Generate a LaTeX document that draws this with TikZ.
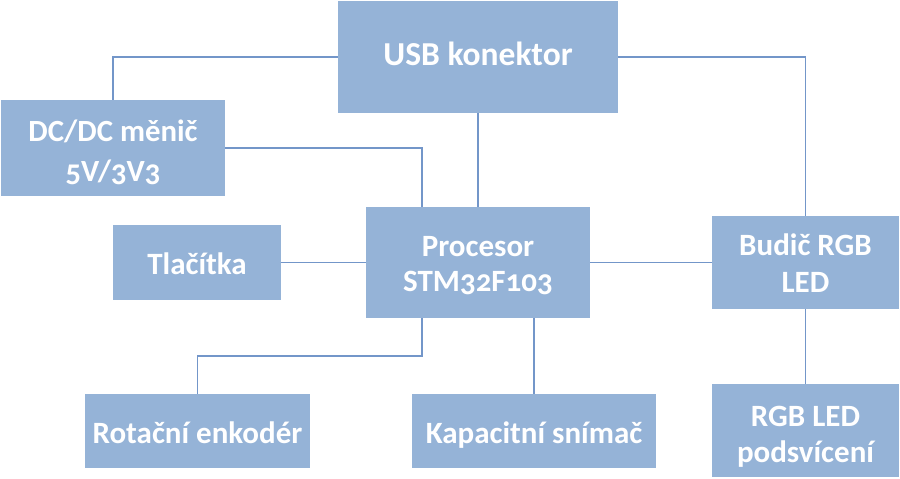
\documentclass[tikz,border=0pt]{standalone}
\usepackage{fontspec}
\setmainfont{Carlito}[Numbers=OldStyle]
\definecolor{boxfill}{HTML}{95B3D7}
\definecolor{wire}{HTML}{7396C9}
\newcommand{\tstr}[1]{\rule{0pt}{#1bp}}
\newcommand{\bstr}{\rule[-8bp]{0pt}{8bp}}
\begin{document}
\begin{tikzpicture}[x=1bp,y=-1bp,
  box/.style={fill=boxfill, draw=none, inner sep=0pt, text=white, align=center,
    font=\fontsize{31bp}{36bp}\selectfont\bfseries},
  wireline/.style={draw=wire, line width=1.6bp}]
\useasboundingbox (0,0) rectangle (900,479);
\node[box, minimum width=280bp, minimum height=112bp, font=\fontsize{33.5bp}{40bp}\selectfont\bfseries] (usb) at (478,57) {\tstr{25.4}\bstr USB konektor};
\node[box, minimum width=224bp, minimum height=96bp, font=\fontsize{30.8bp}{40bp}\selectfont\bfseries] (dc) at (113,148) {\tstr{36}DC/DC měnič\\\bstr 5V/3V3};
\node[box, minimum width=168bp, minimum height=75bp] (tl) at (197,262.5) {\tstr{33}\bstr Tlačítka};
\node[box, minimum width=224bp, minimum height=111bp, font=\fontsize{31bp}{34bp}\selectfont\bfseries] (proc) at (478,262.5) {\tstr{31}Procesor\\\bstr STM32F103};
\node[box, minimum width=187bp, minimum height=93bp] (bud) at (805.5,262.5) {\tstr{31}Budič RGB\\\bstr LED};
\node[box, minimum width=225bp, minimum height=74bp] (rot) at (197.5,431) {\tstr{32}\bstr Rotační enkodér};
\node[box, minimum width=244bp, minimum height=74bp] (kap) at (534,431) {\tstr{32}\bstr Kapacitní snímač};
\node[box, minimum width=187bp, minimum height=93bp] (rgb) at (805.5,430.5) {\tstr{35}RGB LED\\\bstr podsvícení};
\coordinate (pin1) at ([xshift=-56bp]proc.north);
\coordinate (pout1) at ([xshift=-56bp]proc.south);
\coordinate (pout2) at ([xshift=56bp]proc.south);
\draw[wireline] (usb.west) -| (dc.north);
\draw[wireline] (dc.east) -| (pin1);
\draw[wireline] (usb.south) -- (proc.north);
\draw[wireline] (usb.east) -| (bud.north);
\draw[wireline] (tl.east) -- (proc.west);
\draw[wireline] (proc.east) -- (bud.west);
\draw[wireline] (pout1) -- ++(0,38) -| (rot.north);
\draw[wireline] (pout2) -- (kap.north);
\draw[wireline] (bud.south) -- (rgb.north);
\end{tikzpicture}
\end{document}
